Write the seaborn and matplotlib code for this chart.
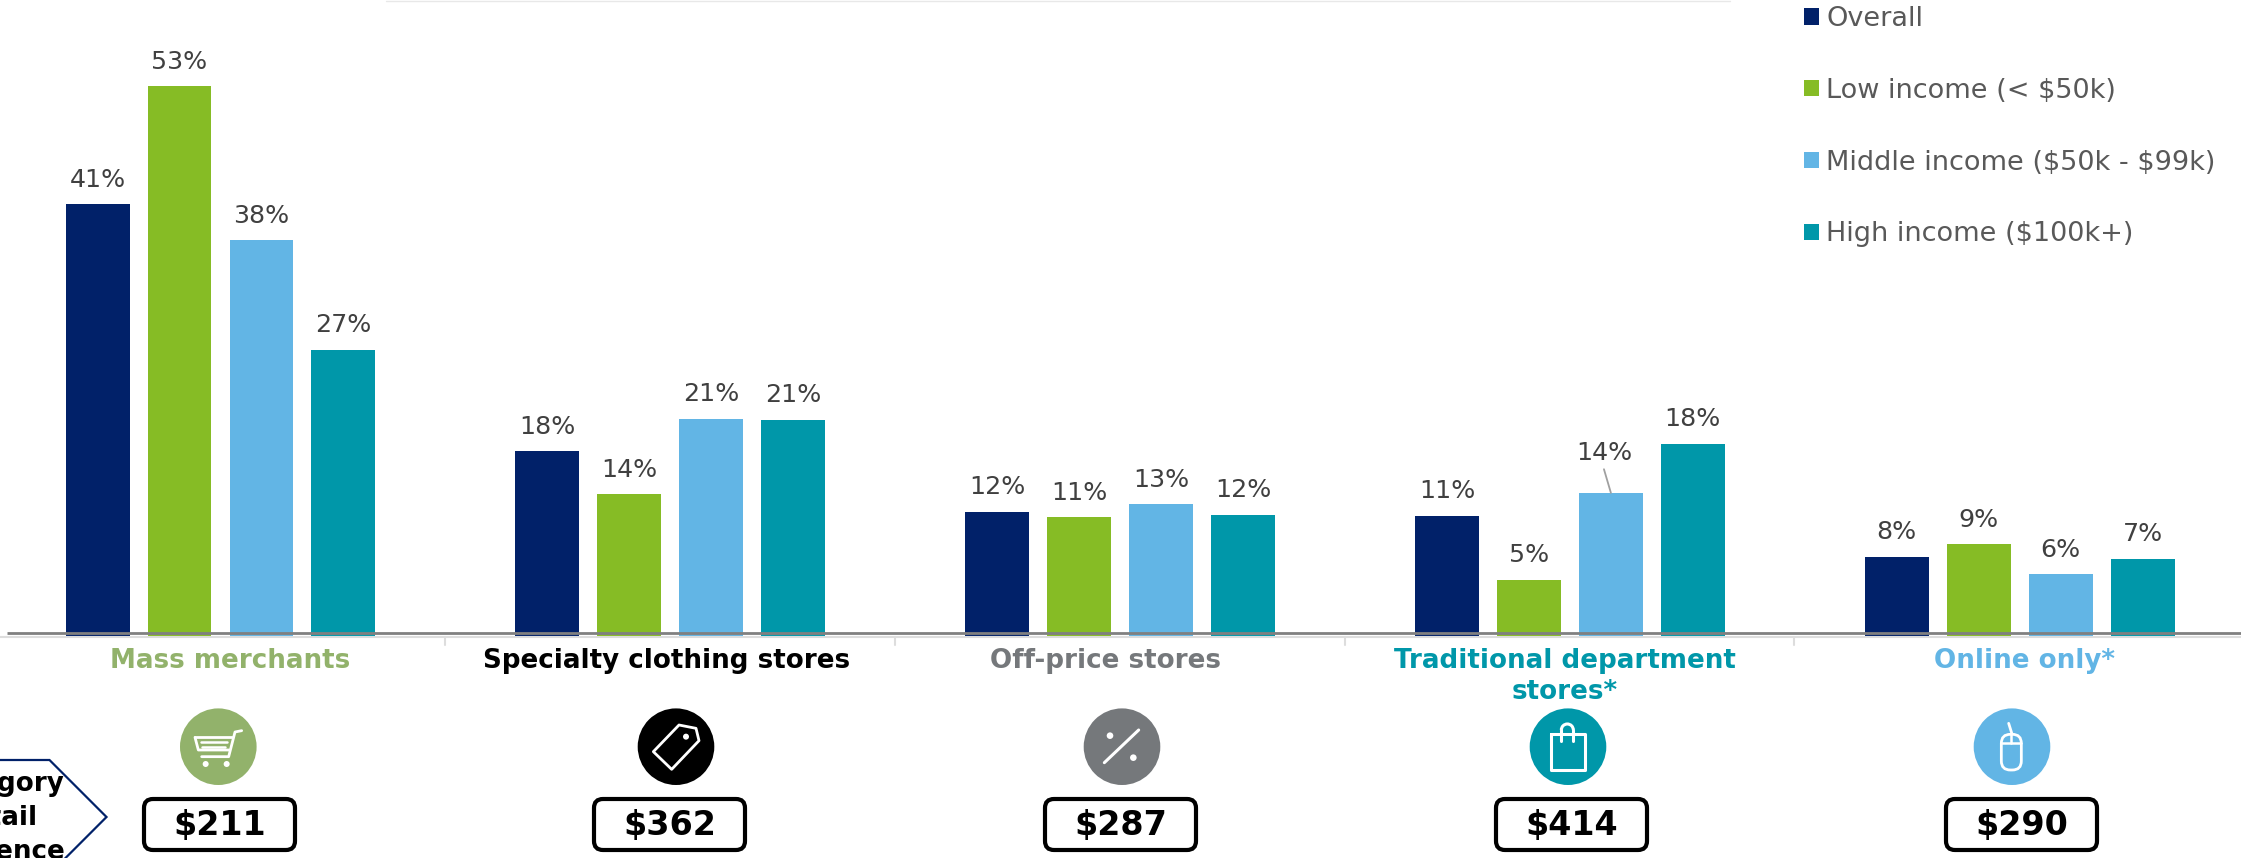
import matplotlib
matplotlib.use("Agg")
import matplotlib.pyplot as plt
import pandas as pd
import seaborn as sns
from matplotlib.patches import Arc, Circle, FancyBboxPatch, Polygon

categories = ["Mass merchants", "Specialty clothing stores", "Off-price stores",
              "Traditional department stores*", "Online only*"]
series_names = ["Overall", r"Low income (< \$50k)", r"Middle income (\$50k - \$99k)", r"High income (\$100k+)"]
overall = [41.3, 17.7, 11.9, 11.5, 7.6]
low_income = [52.6, 13.6, 11.4, 5.4, 8.8]
middle_income = [37.9, 20.8, 12.6, 13.7, 5.9]
high_income = [27.4, 20.7, 11.6, 18.4, 7.4]
labels_overall = ["41%", "18%", "12%", "11%", "8%"]
labels_low = ["53%", "14%", "11%", "5%", "9%"]
labels_middle = ["38%", "21%", "13%", "14%", "6%"]
labels_high = ["27%", "21%", "12%", "18%", "7%"]
spend = [r"\$211", r"\$362", r"\$287", r"\$414", r"\$290"]
series_colors = ["#012169", "#86BC25", "#62B5E5", "#0097A9"]
cat_colors = ["#92B26B", "#000000", "#75787B", "#0097A9", "#62B5E5"]

W, H = 2241, 858
BASE = 636
PX_PER_UNIT = 10.45

sns.set_theme(style="white", rc={"font.family": ["DejaVu Sans"]})
df = pd.DataFrame({
    "category": categories * 4,
    "series": [s for s in series_names for _ in categories],
    "value": overall + low_income + middle_income + high_income,
})

fig = plt.figure(figsize=(W / 100, H / 100), dpi=100, facecolor="white")
ax = fig.add_axes([0, (H - BASE) / H, 1, BASE / H])
sns.barplot(data=df, x="category", y="value", hue="series", order=categories, hue_order=series_names,
            palette=series_colors, width=0.729, gap=0.22, saturation=1, errorbar=None, ax=ax,
            edgecolor="none", linewidth=0)
ax.set_xlim(-220.5 / 449.8, (W - 220.5) / 449.8)
ax.set_ylim(0, BASE / PX_PER_UNIT)
ax.set_xlabel("")
ax.set_ylabel("")
ax.set_xticks([])
ax.set_yticks([])
for s in ax.spines.values():
    s.set_visible(False)
ax.patch.set_alpha(0)

all_labels = [labels_overall, labels_low, labels_middle, labels_high]
for idx, (cont, labs) in enumerate(zip(ax.containers, all_labels)):
    for j, (bar, lab) in enumerate(zip(cont, labs)):
        if idx == 2 and j == 3:
            continue
        ax.annotate(lab, (bar.get_x() + bar.get_width() / 2, bar.get_height()), xytext=(0, 12.5),
                    textcoords="offset points", ha="center", va="baseline",
                    fontsize=18.2, color="#404040")
# label moved off its bar, with a leader line
lead = ax.containers[2][3]
ax.annotate(labels_middle[3], xy=(lead.get_x() + lead.get_width() / 2, lead.get_height()),
            xytext=(-5, 23.8), textcoords="offset points", ha="center", va="baseline",
            fontsize=18.2, color="#404040")
ax.annotate("", xy=(lead.get_x() + lead.get_width() / 2, lead.get_height()),
            xytext=(-5, 17), textcoords="offset points",
            arrowprops=dict(arrowstyle="-", color="#A0A0A0", lw=1.3, shrinkA=0, shrinkB=0))

handles, names = ax.get_legend_handles_labels()
leg = ax.legend(handles, names, loc="upper left", bbox_to_anchor=(1804 / W, 1 - 6 / BASE),
                frameon=False, fontsize=19.5, labelcolor="#595959", handlelength=0.55, handleheight=0.55,
                handletextpad=0.27, labelspacing=1.69, borderpad=0, borderaxespad=0)

# overlay in pixel coordinates for the furniture under the chart
ov = fig.add_axes([0, 0, 1, 1], zorder=5)
ov.set_xlim(0, W)
ov.set_ylim(H, 0)
ov.axis("off")
ov.patch.set_alpha(0)

ov.plot([7, W], [633, 633], color="#808080", lw=2.0, solid_capstyle="butt")
ov.plot([0, W], [637, 637], color="#DDDDDD", lw=1.5)
ov.plot([386, 1730], [0.5, 0.5], color="#E8E8E8", lw=1)
for x in [445, 895, 1345, 1794]:
    ov.plot([x, x], [637, 645], color="#DDDDDD", lw=1.5)

label_x = [230, 667, 1105, 1565, 2025]
for x, c, col in zip(label_x, categories, cat_colors):
    txt = c.replace("department stores", "department\nstores")
    ov.text(x, 647.5, txt, ha="center", va="top", fontsize=18.8, fontweight="bold", color=col, linespacing=1.26)

cx = [218.3, 676, 1122, 1568, 2012]
cy = 746.7
for x, col in zip(cx, cat_colors):
    ov.add_patch(Circle((x, cy), 38.3, facecolor=col, edgecolor="none"))

box_l = [144, 594, 1045, 1496, 1946]
for x, s in zip(box_l, spend):
    ov.add_patch(FancyBboxPatch((x + 8, 807), 135, 35, boxstyle="round,pad=8,rounding_size=9",
                                facecolor="white", edgecolor="black", lw=3))
    ov.text(x + 75.5, 826, s, ha="center", va="center", fontsize=24, fontweight="bold", color="black")

# arrow tag, cut off by the left and bottom edges
ov.add_patch(Polygon([(-30, 760), (49.5, 760), (106.5, 817), (49.5, 874), (-30, 874)], closed=True,
                     facecolor="white", edgecolor="#012169", lw=1.6, zorder=1))
ov.text(-2, 818, "Category\nretail\npresence", ha="center", va="center", fontsize=18.8, fontweight="bold",
        color="black", linespacing=1.38, zorder=2)

WHITE = dict(color="white", solid_capstyle="round", solid_joinstyle="round")


def pts(ox, pairs):
    """Icon outlines are measured on 3x crops starting at (ox, 700)."""
    return [ox + p[0] / 3 for p in pairs], [700 + p[1] / 3 for p in pairs]


def stroke(ox, pairs, lw=2.0):
    ov.plot(*pts(ox, pairs), lw=lw, **WHITE)


def dot(ox, x, y, r):
    ov.add_patch(Circle((ox + x / 3, 700 + y / 3), r, facecolor="white", edgecolor="none"))


# cart
stroke(170, [(215, 92), (195, 96), (176, 170), (95, 170)])
stroke(170, [(75, 112), (187, 112)])
stroke(170, [(75, 112), (85, 150), (178, 150)])
stroke(170, [(93, 127), (172, 127)], 1.8)
stroke(170, [(95, 140), (165, 140)], 1.8)
dot(170, 107, 192, 3)
dot(170, 170, 192, 3)
# tag
ox = 625
x_, y_ = pts(ox, [(162, 75), (213, 85), (222, 122), (140, 208), (85, 155)])
ov.add_patch(Polygon(list(zip(x_, y_)), closed=True, facecolor="none", edgecolor="white", lw=2, joinstyle="round"))
dot(ox, 183, 110, 3)
# percent
ox = 1072
stroke(ox, [(200, 90), (97, 188)], 2.2)
dot(ox, 114, 107, 3.3)
dot(ox, 184, 173, 3.3)
# bag
ox = 1518
stroke(ox, [(100, 103), (200, 103), (200, 210), (100, 210), (100, 103)], 2.2)
stroke(ox, [(130, 90), (130, 122)], 2.2)
stroke(ox, [(166, 90), (166, 122)], 2.2)
ov.add_patch(Arc((ox + 148 / 3, 700 + 90 / 3), 12, 12, theta1=180, theta2=360, color="white", lw=2.2))
# mouse
ox = 1963
ov.add_patch(FancyBboxPatch((ox + 124 / 3, 700 + 112 / 3), 42 / 3, 89 / 3, boxstyle="round,pad=3,rounding_size=9",
                            facecolor="none", edgecolor="white", lw=2))
stroke(ox, [(115, 130), (175, 130)], 1.8)
stroke(ox, [(145, 103), (145, 130)], 1.8)
stroke(ox, [(137, 70), (147, 102)], 2)

fig.savefig("out.png", dpi=100, facecolor="white")
